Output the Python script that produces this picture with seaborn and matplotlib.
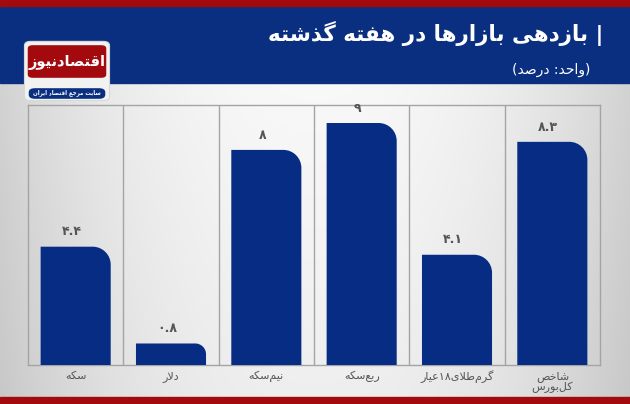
import re
import numpy as np
import pandas as pd
import seaborn as sns
import matplotlib.pyplot as plt
from matplotlib.path import Path
from matplotlib.patches import PathPatch, Rectangle, FancyBboxPatch

# data (weekly market returns, percent)
categories = ["سکه", "دلار", "نیم\u200cسکه", "ربع\u200cسکه", "گرم\u200cطلای۱۸عیار", "شاخص\nکل\u200cبورس"]
returns = [4.4, 0.8, 8, 9, 4.1, 8.3]

title = "| بازدهی بازارها در هفته گذشته"
unit_word = "واحد"
unit_value = "درصد"
logo_name = "اقتصادنیوز"
logo_tag = "سایت مرجع اقتصاد ایران"

BAR = "#062c83"
HEADER = "#0b2f80"
RED = "#a30a0e"
GRID = "#a4a4a4"
TEXT = "#555555"

# matplotlib does no arabic shaping, so map letters to presentation forms
DUAL = {'ب': 0xFE8F, 'ت': 0xFE95, 'ث': 0xFE99, 'ج': 0xFE9D, 'ح': 0xFEA1, 'خ': 0xFEA5,
        'س': 0xFEB1, 'ش': 0xFEB5, 'ص': 0xFEB9, 'ض': 0xFEBD, 'ط': 0xFEC1, 'ظ': 0xFEC5,
        'ع': 0xFEC9, 'غ': 0xFECD, 'ف': 0xFED1, 'ق': 0xFED5, 'ل': 0xFEDD, 'م': 0xFEE1,
        'ن': 0xFEE5, 'ه': 0xFEE9, 'ی': 0xFBFC, 'ک': 0xFB8E, 'گ': 0xFB92, 'پ': 0xFB56,
        'چ': 0xFB7A}
RIGHT = {'ا': 0xFE8D, 'آ': 0xFE81, 'د': 0xFEA9, 'ذ': 0xFEAB, 'ر': 0xFEAD, 'ز': 0xFEAF,
         'ژ': 0xFB8A, 'و': 0xFEED}


def shape(s):
    out = []
    i = 0
    n = len(s)
    while i < n:
        c = s[i]
        prev = s[i - 1] if i > 0 else ''
        joins = c in DUAL or c in RIGHT
        link_prev = prev in DUAL and joins
        if c == 'ل' and i + 1 < n and s[i + 1] == 'ا':
            out.append(chr(0xFEFC if link_prev else 0xFEFB))
            i += 2
            continue
        nxt = s[i + 1] if i + 1 < n else ''
        link_next = c in DUAL and (nxt in DUAL or nxt in RIGHT)
        if c in DUAL:
            off = 3 if (link_prev and link_next) else 1 if link_prev else 2 if link_next else 0
            out.append(chr(DUAL[c] + off))
        elif c in RIGHT:
            out.append(chr(RIGHT[c] + (1 if link_prev else 0)))
        elif c != '\u200c':
            out.append(c)
        i += 1
    return ''.join(out)


def rtl(s):
    lines = []
    for line in s.split('\n'):
        tokens = re.findall(r'[0-9۰-۹.]+|[^0-9۰-۹.]+', shape(line))
        tokens = [t if re.match(r'[0-9۰-۹.]', t) else t[::-1] for t in tokens]
        lines.append(''.join(tokens[::-1]))
    return '\n'.join(lines)


def fa_num(v):
    return f"{v:g}".translate(str.maketrans('0123456789', '۰۱۲۳۴۵۶۷۸۹'))


sns.set_theme(style="white")
plt.rcParams['font.family'] = ['DejaVu Sans']

W, H = 630, 404
fig = plt.figure(figsize=(W / 100, H / 100), dpi=100)

# background with grey edges
bg = fig.add_axes([0, 0, 1, 1], zorder=-10)
xx, yy = np.meshgrid(np.linspace(0, 1, 300), np.linspace(1, 0, 200))
g = 0.985 - 0.15 * (2 * np.abs(xx - 0.5)) ** 2.2 - 0.05 * (1 - yy)
bg.imshow(np.dstack([g, g, g]).clip(0, 1), extent=[0, 1, 0, 1], aspect='auto')
bg.set_xlim(0, 1)
bg.set_ylim(0, 1)
bg.axis('off')


def fy(py):
    return 1 - py / H


bg.add_patch(Rectangle((0, fy(83)), 1, 77 / H, color=HEADER, zorder=2))
bg.add_patch(Rectangle((0, fy(6)), 1, 6 / H, color=RED, zorder=2))
bg.add_patch(Rectangle((0, 0), 1, 7 / H, color=RED, zorder=2))

# logo
bg.add_patch(FancyBboxPatch((27 / W, fy(99)), 80 / W, 56 / H,
                            boxstyle="round,pad=0.004,rounding_size=0.01",
                            fc="#f2f2f2", ec="#d8d8d8", lw=0.8, zorder=3))
bg.add_patch(FancyBboxPatch((29 / W, fy(77)), 76 / W, 31 / H,
                            boxstyle="round,pad=0.002,rounding_size=0.008",
                            fc=RED, ec="none", zorder=4))
bg.add_patch(FancyBboxPatch((30 / W, fy(98)), 74 / W, 9 / H,
                            boxstyle="round,pad=0.002,rounding_size=0.01",
                            fc=HEADER, ec="none", zorder=4))
fig.text(67 / W, fy(62), rtl(logo_name), color="white", fontsize=10.5,
         fontweight="bold", ha="center", va="center")
fig.text(67 / W, fy(93), rtl(logo_tag), color="white", fontsize=4.0,
         fontweight="bold", ha="center", va="center")

fig.text(603 / W, fy(33), rtl(title), color="white", fontsize=15.5,
         fontweight="bold", ha="right", va="center")
fig.text(590 / W, fy(70), f"({rtl(unit_value)} :{rtl(unit_word)})", color="white",
         fontsize=10, ha="right", va="center")

# chart
ax = fig.add_axes([28 / W, 39 / H, 572 / W, 260 / H])
ax.set_facecolor('none')
df = pd.DataFrame({"market": categories, "value": returns})
sns.barplot(data=df, x="market", y="value", color=BAR, saturation=1,
            width=0.735, ax=ax, zorder=2)
ax.set_xlim(-0.5, len(categories) - 0.5)
ax.set_ylim(0, 9.67)
ax.set_yticks([])
ax.set_xlabel("")
ax.set_ylabel("")
ax.set_xticks(range(len(categories)))
ax.set_xticklabels([rtl(c) for c in categories], color=TEXT, fontsize=8,
                   linespacing=1.0)
ax.tick_params(axis='x', length=0, pad=4)
for sp in ax.spines.values():
    sp.set_color(GRID)
    sp.set_linewidth(1)
for k in range(1, len(categories)):
    ax.axvline(k - 0.5, color=GRID, lw=1, zorder=1)

# round the top right corner of each bar
p0 = ax.transData.transform((0, 0))
p1 = ax.transData.transform((1, 1))
px_x, px_y = p1 - p0
for bar in list(ax.patches):
    x0, y0 = bar.get_x(), bar.get_y()
    w, h = bar.get_width(), bar.get_height()
    x1, y1 = x0 + w, y0 + h
    r = min(18, h * px_y / 2, w * px_x / 2)
    rx, ry = r / px_x, r / px_y
    k = 0.5523
    verts = [(x0, y0), (x0, y1), (x1 - rx, y1),
             (x1 - rx + k * rx, y1), (x1, y1 - ry + k * ry), (x1, y1 - ry),
             (x1, y0), (x0, y0)]
    codes = [Path.MOVETO, Path.LINETO, Path.LINETO,
             Path.CURVE4, Path.CURVE4, Path.CURVE4,
             Path.LINETO, Path.CLOSEPOLY]
    ax.add_patch(PathPatch(Path(verts, codes), fc=BAR, ec="none", zorder=3))
    bar.remove()

for i, v in enumerate(returns):
    ax.annotate(fa_num(v), (i, v), xytext=(-3, 6), textcoords="offset points",
                ha="center", va="bottom", color=TEXT, fontsize=9, fontweight="bold")

fig.savefig("out.png", dpi=100)
